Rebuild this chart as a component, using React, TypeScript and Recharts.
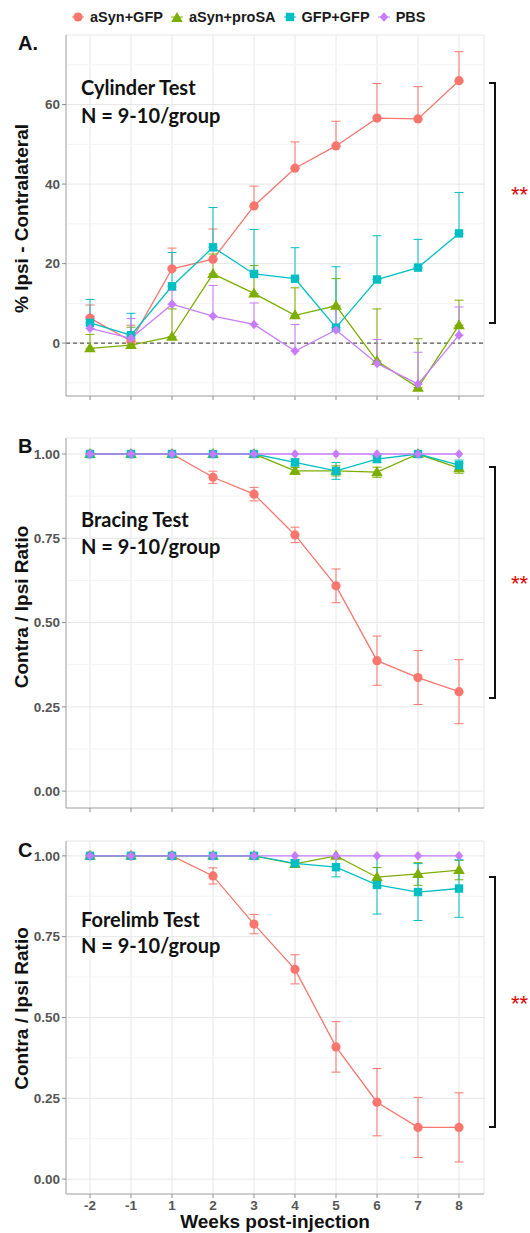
import React from "react";
import { LineChart, Line, XAxis, YAxis, CartesianGrid, ErrorBar, ReferenceLine } from "recharts";

// x categories (weeks relative to injection)
const weeks = ["-2", "-1", "1", "2", "3", "4", "5", "6", "7", "8"];

const groups = ["aSyn+GFP", "aSyn+proSA", "GFP+GFP", "PBS"];
const colors = ["#F8766D", "#7CAE00", "#00BFC4", "#C77CFF"];
const shapes = ["circle", "triangle", "square", "diamond"];

// A. Cylinder test (% ipsi - contralateral), upper SEM only
const cylAsynGfp = [6.3, 0.5, 18.7, 21.1, 34.5, 44.0, 49.6, 56.6, 56.4, 66.0];
const cylAsynGfpSe = [3.3, 4.0, 5.2, 7.6, 5.0, 6.6, 6.2, 8.7, 8.1, 7.3];
const cylAsynProSA = [-1.3, -0.5, 1.6, 17.4, 12.5, 7.0, 9.4, -4.5, -11.2, 4.5];
const cylAsynProSASe = [3.5, 4.5, 7.0, 5.0, 7.0, 6.9, 6.8, 13.1, 12.3, 6.3];
const cylGfpGfp = [5.1, 2.0, 14.3, 24.1, 17.4, 16.2, 3.9, 16.0, 19.0, 27.6];
const cylGfpGfpSe = [5.9, 5.5, 8.5, 10.0, 11.2, 7.8, 15.3, 11.0, 7.1, 10.3];
const cylPbs = [3.7, 1.2, 9.8, 6.8, 4.7, -2.0, 3.3, -5.1, -10.3, 2.0];
const cylPbsSe = [3.0, 5.0, 3.5, 7.7, 5.4, 6.7, 6.0, 6.0, 8.0, 7.1];

// B. Bracing test (contra / ipsi ratio)
const braAsynGfp = [1, 1, 1, 0.931, 0.881, 0.76, 0.609, 0.387, 0.337, 0.295];
const braAsynGfpSe = [0, 0, 0, 0.018, 0.02, 0.023, 0.05, 0.073, 0.08, 0.095];
const braAsynProSA = [1, 1, 1, 1, 1, 0.95, 0.95, 0.946, 1, 0.958];
const braAsynProSASe = [0, 0, 0, 0, 0, 0.01, 0.015, 0.015, 0, 0.015];
const braGfpGfp = [1, 1, 1, 1, 1, 0.975, 0.95, 0.985, 1, 0.967];
const braGfpGfpSe = [0, 0, 0, 0, 0, 0.01, 0.025, 0.01, 0, 0.015];
const braPbs = [1, 1, 1, 1, 1, 1, 1, 1, 1, 1];
const braPbsSe = [0, 0, 0, 0, 0, 0, 0, 0, 0, 0];

// C. Forelimb test (contra / ipsi ratio)
const forAsynGfp = [1, 1, 1, 0.938, 0.789, 0.649, 0.409, 0.238, 0.16, 0.16];
const forAsynGfpSe = [0, 0, 0, 0.025, 0.03, 0.045, 0.078, 0.104, 0.093, 0.107];
const forAsynProSA = [1, 1, 1, 1, 1, 0.975, 1, 0.934, 0.944, 0.956];
const forAsynProSASe = [0, 0, 0, 0, 0, 0.01, 0, 0.03, 0.035, 0.03];
const forGfpGfp = [1, 1, 1, 1, 1, 0.977, 0.965, 0.91, 0.888, 0.899];
const forGfpGfpSe = [0, 0, 0, 0, 0, 0.012, 0.03, 0.09, 0.088, 0.089];
const forPbs = [1, 1, 1, 1, 1, 1, 1, 1, 1, 1];
const forPbsSe = [0, 0, 0, 0, 0, 0, 0, 0, 0, 0];

const cylTicks = [0, 20, 40, 60];
const cylMinor = [-10, 10, 30, 50, 70];
const ratioTicks = [0, 0.25, 0.5, 0.75, 1];
const ratioMinor = [0.125, 0.375, 0.625, 0.875];

type Row = Record<string, unknown>;

function buildRows(series: number[][], errs: number[][], upperOnly: boolean): Row[] {
  return weeks.map((w, i) => {
    const row: Row = { week: w };
    series.forEach((s, k) => {
      row[`g${k}`] = s[i];
      row[`e${k}`] = upperOnly ? [0, errs[k][i]] : errs[k][i];
    });
    return row;
  });
}

const cylRows = buildRows(
  [cylAsynGfp, cylAsynProSA, cylGfpGfp, cylPbs],
  [cylAsynGfpSe, cylAsynProSASe, cylGfpGfpSe, cylPbsSe],
  true,
);
const braRows = buildRows(
  [braAsynGfp, braAsynProSA, braGfpGfp, braPbs],
  [braAsynGfpSe, braAsynProSASe, braGfpGfpSe, braPbsSe],
  false,
);
const forRows = buildRows(
  [forAsynGfp, forAsynProSA, forGfpGfp, forPbs],
  [forAsynGfpSe, forAsynProSASe, forGfpGfpSe, forPbsSe],
  false,
);

const FONT = "'Liberation Sans', Arial, sans-serif";
const BORDER = "#a8a8a8";
const tickStyle = { fontSize: 13.5, fontWeight: 700, fill: "#555555", fontFamily: FONT };
const titleStyle = { fontSize: 19, fontWeight: 700, fill: "#111111", fontFamily: FONT };

function Marker({ shape, cx, cy, color }: { shape: string; cx: number; cy: number; color: string }) {
  if (cx == null || cy == null) return <g />;
  if (shape === "circle") return <circle cx={cx} cy={cy} r={4.6} fill={color} />;
  if (shape === "triangle")
    return <polygon points={`${cx},${cy - 6} ${cx - 5.8},${cy + 4} ${cx + 5.8},${cy + 4}`} fill={color} />;
  if (shape === "square") return <rect x={cx - 4.2} y={cy - 4.2} width={8.4} height={8.4} fill={color} />;
  return <polygon points={`${cx},${cy - 4.8} ${cx + 4.2},${cy} ${cx},${cy + 4.8} ${cx - 4.2},${cy}`} fill={color} />;
}

function YTitle(props: any) {
  const { viewBox, text, shift } = props;
  const x = viewBox.x + 21;
  const y = viewBox.y + viewBox.height / 2 + shift;
  return (
    <text x={x} y={y} transform={`rotate(-90 ${x} ${y})`} textAnchor="middle" dominantBaseline="central" style={titleStyle}>
      {text}
    </text>
  );
}

interface PanelProps {
  top: number;
  height: number;
  marginTop: number;
  marginBottom: number;
  xAxisHeight: number;
  rows: Row[];
  domain: [number, number];
  ticks: number[];
  minor: number[];
  decimals: number;
  yTitle: string;
  titleShift: number;
  showXLabels: boolean;
  zeroLine?: boolean;
}

function Panel(p: PanelProps) {
  return (
    <div style={{ position: "absolute", left: 0, top: p.top }}>
      <LineChart
        width={530}
        height={p.height}
        data={p.rows}
        margin={{ top: p.marginTop, right: 46, bottom: p.marginBottom, left: 0 }}
      >
        <CartesianGrid stroke="#e6e6e6" strokeWidth={1} />
        {p.minor.map((v) => (
          <ReferenceLine key={v} y={v} stroke="#f3f3f3" strokeWidth={1} />
        ))}
        {p.zeroLine && <ReferenceLine y={0} stroke="#333333" strokeWidth={1} strokeDasharray="4 3" />}
        <XAxis
          dataKey="week"
          type="category"
          interval={0}
          padding={{ left: 24, right: 25 }}
          height={p.xAxisHeight}
          tickSize={4}
          tickLine={{ stroke: "#8c8c8c" }}
          axisLine={{ stroke: BORDER }}
          tick={tickStyle}
          tickFormatter={(v: string) => (p.showXLabels ? v : "")}
          label={
            p.showXLabels
              ? { value: "Weeks post-injection", position: "insideBottom", offset: 2, style: titleStyle }
              : undefined
          }
        />
        <XAxis xAxisId="top" dataKey="week" orientation="top" height={0} tick={false} tickLine={false} axisLine={{ stroke: BORDER }} />
        <YAxis
          type="number"
          domain={p.domain}
          allowDataOverflow
          ticks={p.ticks}
          interval={0}
          width={66}
          tickSize={4}
          tickLine={{ stroke: "#8c8c8c" }}
          axisLine={{ stroke: BORDER }}
          tick={tickStyle}
          tickFormatter={(v: number) => v.toFixed(p.decimals)}
          label={<YTitle text={p.yTitle} shift={p.titleShift} />}
        />
        <YAxis
          yAxisId="right"
          orientation="right"
          type="number"
          domain={p.domain}
          allowDataOverflow
          width={0}
          tick={false}
          tickLine={false}
          axisLine={{ stroke: BORDER }}
        />
        {groups.map((g, k) => (
          <Line
            key={g}
            name={g}
            dataKey={`g${k}`}
            stroke={colors[k]}
            strokeWidth={1.3}
            isAnimationActive={false}
            activeDot={false}
            dot={(d: any) => (
              <Marker key={`${g}-${d.index}`} shape={shapes[k]} cx={d.cx} cy={d.cy} color={colors[k]} />
            )}
          >
            <ErrorBar dataKey={`e${k}`} width={4.5} stroke={colors[k]} strokeWidth={1} direction="y" />
          </Line>
        ))}
      </LineChart>
    </div>
  );
}

function LegendIcon({ shape, color }: { shape: string; color: string }) {
  return (
    <svg width={12} height={12} style={{ display: "block" }}>
      <line x1={0} y1={6} x2={12} y2={6} stroke={color} strokeWidth={1} />
      <Marker shape={shape} cx={6} cy={shape === "triangle" ? 7 : 6} color={color} />
    </svg>
  );
}

// bracket per panel: [top y, bottom y, y of the "**"]
const brackets: [number, number, number][] = [
  [83, 323, 190],
  [467, 698, 579],
  [877, 1127, 999],
];

export default function App() {
  return (
    <div style={{ position: "absolute", left: 0, top: 0, width: 530, height: 1233, background: "#fff", fontFamily: FONT }}>
      <div style={{ position: "absolute", left: 72, top: 8, display: "flex", alignItems: "center", height: 18 }}>
        {groups.map((g, k) => (
          <div key={g} style={{ display: "flex", alignItems: "center", marginRight: 8 }}>
            <LegendIcon shape={shapes[k]} color={colors[k]} />
            <span style={{ marginLeft: 6, fontSize: 14.5, fontWeight: 700, color: "#1a1a1a" }}>{g}</span>
          </div>
        ))}
      </div>

      <Panel
        top={0}
        height={410}
        marginTop={35}
        marginBottom={4}
        xAxisHeight={10}
        rows={cylRows}
        domain={[-13.3, 77.5]}
        ticks={cylTicks}
        minor={cylMinor}
        decimals={0}
        yTitle="% Ipsi - Contralateral"
        titleShift={3}
        showXLabels={false}
        zeroLine
      />
      <Panel
        top={410}
        height={410}
        marginTop={28}
        marginBottom={2}
        xAxisHeight={10}
        rows={braRows}
        domain={[-0.05, 1.0475]}
        ticks={ratioTicks}
        minor={ratioMinor}
        decimals={2}
        yTitle="Contra / Ipsi Ratio"
        titleShift={-16}
        showXLabels={false}
      />
      <Panel
        top={820}
        height={413}
        marginTop={21}
        marginBottom={3}
        xAxisHeight={36}
        rows={forRows}
        domain={[-0.046, 1.046]}
        ticks={ratioTicks}
        minor={ratioMinor}
        decimals={2}
        yTitle="Contra / Ipsi Ratio"
        titleShift={-9}
        showXLabels
      />

      <svg width={530} height={1233} style={{ position: "absolute", left: 0, top: 0, pointerEvents: "none" }}>
        <g style={{ fontFamily: FONT, fontWeight: 700, fontSize: 20, fill: "#111" }}>
          <text x={18} y={50}>A.</text>
          <text x={18} y={453}>B</text>
          <text x={18} y={857}>C</text>
        </g>
        <g style={{ fontFamily: "Lato, 'Open Sans', sans-serif", fontWeight: 700, fontSize: 20, fill: "#111" }}>
          <text x={81} y={95}>Cylinder Test</text>
          <text x={81} y={123}>N = 9-10/group</text>
          <text x={81} y={527}>Bracing Test</text>
          <text x={81} y={554}>N = 9-10/group</text>
          <text x={81} y={927}>Forelimb Test</text>
          <text x={81} y={953}>N = 9-10/group</text>
        </g>
        {brackets.map(([y1, y2, ys]) => (
          <g key={y1}>
            <path d={`M489 ${y1} H495 V${y2} H489`} fill="none" stroke="#111" strokeWidth={2} />
            <text x={511} y={ys + 12} style={{ fontFamily: FONT, fontSize: 22, fill: "#e00000" }}>
              **
            </text>
          </g>
        ))}
      </svg>
    </div>
  );
}
